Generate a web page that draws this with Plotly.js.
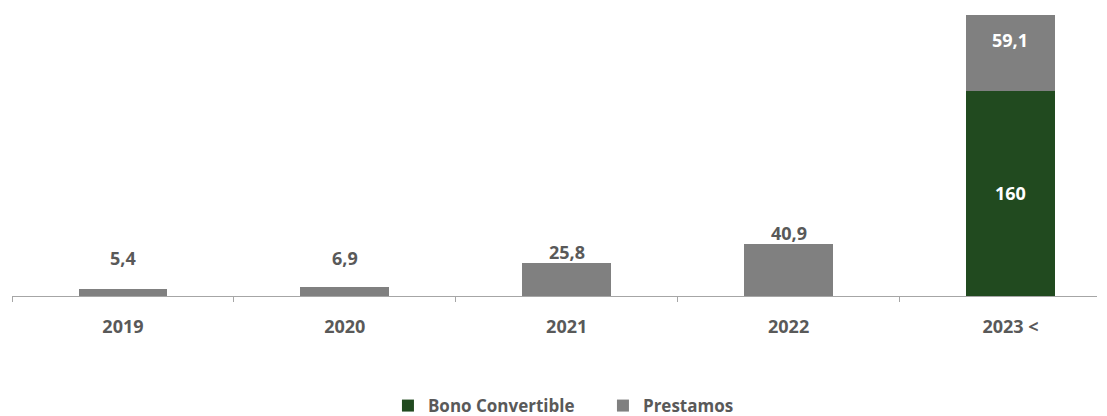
<!DOCTYPE html>
<html>
<head>
<meta charset="utf-8">
<script src="https://cdn.plot.ly/plotly-3.0.1.min.js"></script>
<style>html,body{margin:0;padding:0;background:#fff;}#chart{width:1107px;height:416px;}</style>
</head>
<body>
<div id="chart"></div>
<script>
const categories = ["2019", "2020", "2021", "2022", "2023 <"];
const bonoConvertible = [null, null, null, null, 160];
const prestamos = [5.4, 6.9, 25.8, 40.9, 59.1];

const GREEN = "#214a1f";
const GRAY = "#808080";
const TEXT = "#595959";
const FONT = "'Open Sans', 'Noto Sans', sans-serif";

function fmt(v) { return String(v).replace(".", ","); }

const traces = [
  {type: "bar", name: "<b>Bono Convertible</b>", x: categories, y: bonoConvertible,
   marker: {color: GREEN}, hoverinfo: "skip"},
  {type: "bar", name: "<b>Prestamos</b>", x: categories, y: prestamos,
   marker: {color: GRAY}, hoverinfo: "skip"}
];

const annotations = [];
categories.forEach((c, i) => {
  const b = bonoConvertible[i] || 0;
  const p = prestamos[i];
  if (b > 0) {
    annotations.push({x: i, y: b / 2, text: "<b>" + fmt(b) + "</b>", showarrow: false,
      font: {color: "#ffffff", size: 18, family: FONT}, yanchor: "middle"});
    annotations.push({x: i, y: b + p, text: "<b>" + fmt(p) + "</b>", showarrow: false,
      font: {color: "#ffffff", size: 18, family: FONT}, yanchor: "middle", yshift: -25});
  } else {
    annotations.push({x: i, y: Math.max(b + p, 21), text: "<b>" + fmt(p) + "</b>", showarrow: false,
      font: {color: TEXT, size: 18, family: FONT}, yanchor: "middle", yshift: 11});
  }
});

const layout = {
  width: 1107, height: 416,
  margin: {l: 12, r: 10, t: 15, b: 120},
  paper_bgcolor: "#ffffff", plot_bgcolor: "#ffffff",
  barmode: "stack", bargap: 0.6,
  font: {family: FONT, color: TEXT},
  showlegend: true,
  legend: {orientation: "h", traceorder: "normal", x: 0.3465, xanchor: "left",
    yref: "container", y: 0.024, yanchor: "middle",
    entrywidth: 170, entrywidthmode: "pixels",
    font: {size: 17, color: TEXT, family: FONT}, itemwidth: 30, tracegroupgap: 0},
  xaxis: {type: "category", range: [-0.5, 4.39], showline: true, linecolor: "#a6a6a6", linewidth: 1,
    ticks: "outside", tickson: "boundaries", ticklen: 5, tickcolor: "#a6a6a6",
    showgrid: false, zeroline: false, ticklabelstandoff: 14,
    tickfont: {size: 18, color: TEXT, family: FONT}, tickprefix: "<b>", ticksuffix: "</b>", fixedrange: true},
  yaxis: {range: [0, 219.1], visible: false, showgrid: false, zeroline: false, fixedrange: true},
  annotations: annotations
};

Plotly.newPlot("chart", traces, layout, {staticPlot: true, displayModeBar: false});
</script>
</body>
</html>
